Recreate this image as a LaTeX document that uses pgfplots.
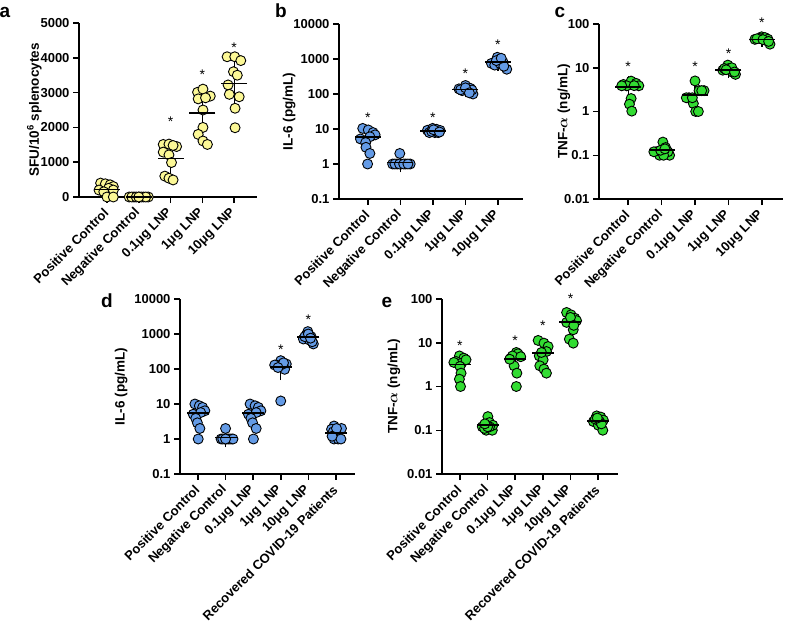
\documentclass[border=0pt]{standalone}
\usepackage{pgfplots}
\pgfplotsset{compat=1.18}
\usepackage{amsmath}
\usepackage{fontspec}
\setmainfont{Liberation Sans}

\definecolor{yel}{RGB}{252,248,150}
\definecolor{blu}{RGB}{100,155,230}
\definecolor{grn}{RGB}{50,220,50}

\newcommand{\tf}{\fontsize{13}{15}\selectfont\bfseries}
\newcommand{\lf}{\fontsize{13.5}{16}\selectfont\bfseries}
\newcommand{\st}[2]{\node[font=\fontsize{14}{14}\selectfont, inner sep=0pt, yshift=-2.5pt] at (axis cs:#1,#2) {*};}

\pgfplotsset{
 prism/.style={
  scale only axis, clip=false,
  axis x line*=bottom, axis y line*=left,
  axis line style={line width=1.8pt, -},
  tick style={line width=1.5pt, black},
  major tick length=6pt, tick align=outside,
  xtick={1,2,3,4,5,6},
  xticklabel style={font=\tf, rotate=45, anchor=east, inner sep=1pt},
  xticklabel shift=7pt,
  yticklabel style={font=\tf},
  ylabel style={font=\lf},
  yminorticks=false, xminorticks=false,
 },
 pts/.style={only marks, mark=*, mark size=5pt, mark options={fill=#1, draw=black, line width=0.9pt}},
 msd/.style={only marks, mark=-, mark size=#1, mark options={line width=1.6pt, black},
   error bars/y dir=both, error bars/y explicit,
   error bars/error bar style={line width=1.2pt, black},
   error bars/error mark options={mark size=5pt, line width=1.2pt, black}},
}

\begin{document}
\begin{tikzpicture}[x=1pt,y=1pt]
\useasboundingbox (0,0) rectangle (787,630);

% ---------------- a ----------------
\begin{axis}[prism, at={(79pt,433pt)}, anchor=south west, width=178pt, height=174pt,
 xmin=0.12, xmax=5.72, ymin=0, ymax=5000,
 ytick={0,1000,2000,3000,4000,5000}, yticklabels={0,1000,2000,3000,4000,5000},
 xticklabels={Positive Control,Negative Control,0.1μg LNP,1μg LNP,10μg LNP},
 ylabel={SFU/10\textsuperscript{6} splenocytes}, ylabel shift=-8pt]
\addplot[pts=yel] coordinates {(0.8,400)(0.95,380)(1.1,350)(1.2,300)(0.75,200)(1.05,250)(0.9,150)(1.2,200)(1.0,0)(1.2,0)};
\addplot[pts=yel] coordinates {(1.7,0)(1.85,0)(2.0,0)(2.15,0)(2.3,0)(1.78,0)(1.92,0)(2.08,0)(2.22,0)(2.0,0)};
\addplot[pts=yel] coordinates {(2.77,1510)(2.95,1520)(3.19,1450)(3.08,1480)(2.77,1290)(2.95,1210)(3.03,990)(2.82,600)(2.95,540)(3.08,490)};
\addplot[pts=yel] coordinates {(3.85,3010)(4.02,3100)(4.25,2900)(3.87,2820)(4.02,2500)(4.02,2000)(3.87,1800)(4.02,1610)(4.16,1510)(4.1,2850)};
\addplot[pts=yel] coordinates {(4.78,4030)(5.02,4030)(5.21,3920)(4.98,3600)(5.1,3500)(4.81,3220)(5.16,2880)(4.85,2950)(5.03,2550)(5.03,1990)};
\addplot[msd=13pt] coordinates {(1,220) +- (0,150) (2,0) +- (0,0) (3,1108) +- (0,420) (4,2410) +- (0,600) (5,3267) +- (0,680)};
\st{3}{2240}\st{4}{3590}\st{5}{4370}
\end{axis}

% ---------------- b ----------------
\begin{axis}[prism, at={(339pt,431pt)}, anchor=south west, width=184pt, height=175pt,
 xmin=0.11, xmax=5.77, ymode=log, ymin=0.1, ymax=10000,
 ytick={0.1,1,10,100,1000,10000}, yticklabels={0.1,1,10,100,1000,10000},
 xticklabels={Positive Control,Negative Control,0.1μg LNP,1μg LNP,10μg LNP},
 ylabel={IL-6 (pg/mL)}, ylabel shift=-9pt]
\addplot[pts=blu] coordinates {(0.84,10.4)(1.01,9.4)(1.16,7.9)(1.22,6.8)(1.06,6)(0.77,5.2)(0.93,4.1)(0.94,3)(1.06,2)(0.99,1)};
\addplot[pts=blu] coordinates {(1.76,1)(1.9,1)(2.03,1)(2.16,1)(2.3,1)(1.83,1)(1.97,1)(2.1,1)(2.23,1)(1.98,2)};
\addplot[pts=blu] coordinates {(2.83,9.2)(2.99,10.4)(3.11,9.8)(3.22,9.1)(2.89,7.9)(3.06,7.9)(3.16,7.9)(2.96,8.5)(3.02,9.5)(3.2,8.2)};
\addplot[pts=blu] coordinates {(3.8,140)(4.0,175)(4.15,145)(4.23,100)(3.9,125)(4.07,122)(4.2,130)(3.85,132)(4.0,150)(4.12,108)};
\addplot[pts=blu] coordinates {(4.8,750)(4.98,1120)(5.09,970)(5.16,800)(4.9,670)(5.27,510)(5.06,750)(5.18,620)(4.95,900)(5.1,1050)};
\addplot[msd=13pt] coordinates {(1,6) += (0,3) -= (0,3) (2,1.1) += (0,0.3) -= (0,0.3) (3,8.8) += (0,0.8) -= (0,0.8) (4,133) += (0,22) -= (0,22) (5,814) += (0,190) -= (0,190)};
\st{1}{25}\st{3}{25}\st{4}{460}\st{5}{3000}
\end{axis}

% ---------------- c ----------------
\begin{axis}[prism, at={(599pt,431pt)}, anchor=south west, width=184pt, height=175pt,
 xmin=0.13, xmax=5.63, ymode=log, ymin=0.01, ymax=100,
 ytick={0.01,0.1,1,10,100}, yticklabels={0.01,0.1,1,10,100},
 xticklabels={Positive Control,Negative Control,0.1μg LNP,1μg LNP,10μg LNP},
 ylabel={TNF-$\boldsymbol{\alpha}$ (ng/mL)}, ylabel shift=-13pt]
\addplot[pts=grn] coordinates {(1.09,4.95)(0.86,4.15)(0.96,3.87)(1.24,4.4)(1.32,3.87)(0.81,3.87)(1.09,1.98)(1.04,1.47)(1.11,1.02)(1.18,3.9)};
\addplot[pts=grn] coordinates {(2.04,0.2)(2.12,0.15)(1.84,0.12)(1.94,0.1)(2.24,0.1)(2.19,0.12)(1.77,0.12)(2.06,0.1)(1.97,0.13)(2.1,0.14)};
\addplot[pts=grn] coordinates {(3.0,5)(3.12,3)(3.27,3)(2.82,2.06)(2.74,2.06)(2.95,1.52)(3.02,1.0)(3.1,1.0)(2.92,2.06)(3.2,3)};
\addplot[pts=grn] coordinates {(3.98,11.5)(3.83,8.8)(4.08,8.8)(4.13,7.8)(4.21,7.05)(3.88,9.6)(4.0,9.5)(4.1,10)(3.93,9)(4.18,8)};
\addplot[pts=grn] coordinates {(4.99,51)(4.79,44.6)(5.14,41.5)(5.24,34.6)(4.92,47)(5.09,49)(4.85,46)(5.18,45)(5.03,44)(5.2,40)};
\addplot[msd=13pt] coordinates {(1,3.6) += (0,1.3) -= (0,1.3) (2,0.13) += (0,0.03) -= (0,0.03) (3,2.4) += (0,1.2) -= (0,1.2) (4,8.9) += (0,1.3) -= (0,1.3) (5,44) += (0,4.5) -= (0,4.5)};
\st{1}{12}\st{3}{12}\st{4}{24.5}\st{5}{123}
\end{axis}

% ---------------- d ----------------
\begin{axis}[prism, at={(180pt,156pt)}, anchor=south west, width=175pt, height=175pt,
 xmin=0.35, xmax=6.69, ymode=log, ymin=0.1, ymax=10000,
 ytick={0.1,1,10,100,1000,10000}, yticklabels={0.1,1,10,100,1000,10000},
 xticklabels={Positive Control,Negative Control,0.1μg LNP,1μg LNP,10μg LNP,Recovered COVID-19 Patients},
 ylabel={IL-6 (pg/mL)}]
\addplot[pts=blu] coordinates {(0.89,10)(1.05,8.9)(1.17,8)(1.25,6.4)(0.83,5.1)(1.1,5.7)(0.92,3.9)(0.98,2.9)(1.07,2)(1.01,1)};
\addplot[pts=blu] coordinates {(1.84,1)(1.97,1)(2.1,1)(2.23,1)(1.9,1)(2.03,1)(2.16,1)(2.27,1)(2.0,1)(2.0,2)};
\addplot[pts=blu] coordinates {(2.89,10)(3.07,8.9)(3.19,8)(3.28,6.4)(2.83,5.1)(3.11,5.7)(2.92,3.9)(2.98,2.9)(3.11,2)(3.01,1)};
\addplot[pts=blu] coordinates {(4.0,173)(3.84,130)(4.2,139)(4.14,98)(3.94,121)(4.08,139)(3.78,130)(4.0,12.2)(4.1,150)(3.9,110)};
\addplot[pts=blu] coordinates {(4.98,1170)(4.82,720)(5.1,840)(5.18,520)(4.92,930)(5.04,670)(4.87,840)(5.14,600)(5.0,1000)(5.08,760)};
\addplot[pts=blu] coordinates {(5.93,2.35)(5.84,1.9)(6.2,2)(5.9,1.6)(6.02,1.4)(5.93,1)(6.08,1)(6.18,1)(6.02,2)(5.86,1.2)};
\addplot[msd=11pt] coordinates {(1,5.5) += (0,3) -= (0,3) (2,1.1) += (0,0.3) -= (0,0.3) (3,5.5) += (0,3) -= (0,3) (4,112) += (0,45) -= (0,45) (5,825) += (0,210) -= (0,210) (6,1.5) += (0,0.45) -= (0,0.45)};
\st{4}{417}\st{5}{3120}
\end{axis}

% ---------------- e ----------------
\begin{axis}[prism, at={(442pt,156pt)}, anchor=south west, width=176pt, height=175pt,
 xmin=0.35, xmax=6.72, ymode=log, ymin=0.01, ymax=100,
 ytick={0.01,0.1,1,10,100}, yticklabels={0.01,0.1,1,10,100},
 xticklabels={Positive Control,Negative Control,0.1μg LNP,1μg LNP,10μg LNP,Recovered COVID-19 Patients},
 ylabel={TNF-$\boldsymbol{\alpha}$ (ng/mL)}]
\addplot[pts=grn] coordinates {(0.98,5)(1.14,4.45)(0.86,3.73)(1.06,3.42)(1.22,4.08)(0.78,3.55)(1.0,2.87)(1.04,2.02)(0.98,1.47)(1.02,1)};
\addplot[pts=grn] coordinates {(2.01,0.205)(2.07,0.15)(1.81,0.12)(1.95,0.1)(2.17,0.1)(2.19,0.13)(1.89,0.11)(2.07,0.12)(2.0,0.12)(1.9,0.14)};
\addplot[pts=grn] coordinates {(3.04,6)(2.84,4.45)(3.16,5)(3.1,5.6)(2.96,2.97)(3.06,2.02)(3.04,1)(2.9,5)(3.2,4.8)(2.8,4.2)};
\addplot[pts=grn] coordinates {(3.83,11.3)(4.04,9.8)(4.19,8.2)(4.13,6.3)(3.87,5)(4.01,4.08)(3.89,2.97)(4.04,2.5)(4.13,2.02)(3.95,6)};
\addplot[pts=grn] coordinates {(4.86,49.2)(5.02,43.5)(5.16,36.3)(5.22,32)(4.86,29.2)(5.1,19.8)(4.96,12.1)(5.1,9.8)(5.0,38)(5.12,25)};
\addplot[pts=grn] coordinates {(5.95,0.213)(6.1,0.2)(6.19,0.17)(5.83,0.158)(6.01,0.13)(6.17,0.1)(6.05,0.16)(5.9,0.18)(6.12,0.14)(5.97,0.19)};
\addplot[msd=11pt] coordinates {(1,3.2) += (0,1.3) -= (0,1.3) (2,0.13) += (0,0.03) -= (0,0.03) (3,4.2) += (0,1.6) -= (0,1.6) (4,5.8) += (0,3.1) -= (0,3.1) (5,29.5) += (0,13) -= (0,13) (6,0.165) += (0,0.035) -= (0,0.035)};
\st{1}{9.8}\st{3}{12.8}\st{4}{28}\st{5}{115}
\end{axis}

\node[font=\fontsize{19}{19}\selectfont\bfseries, anchor=base] at (5,612) {a};
\node[font=\fontsize{19}{19}\selectfont\bfseries, anchor=base] at (281,612) {b};
\node[font=\fontsize{19}{19}\selectfont\bfseries, anchor=base] at (560,612) {c};
\node[font=\fontsize{19}{19}\selectfont\bfseries, anchor=base] at (107,322) {d};
\node[font=\fontsize{19}{19}\selectfont\bfseries, anchor=base] at (387,322) {e};
\end{tikzpicture}
\end{document}
